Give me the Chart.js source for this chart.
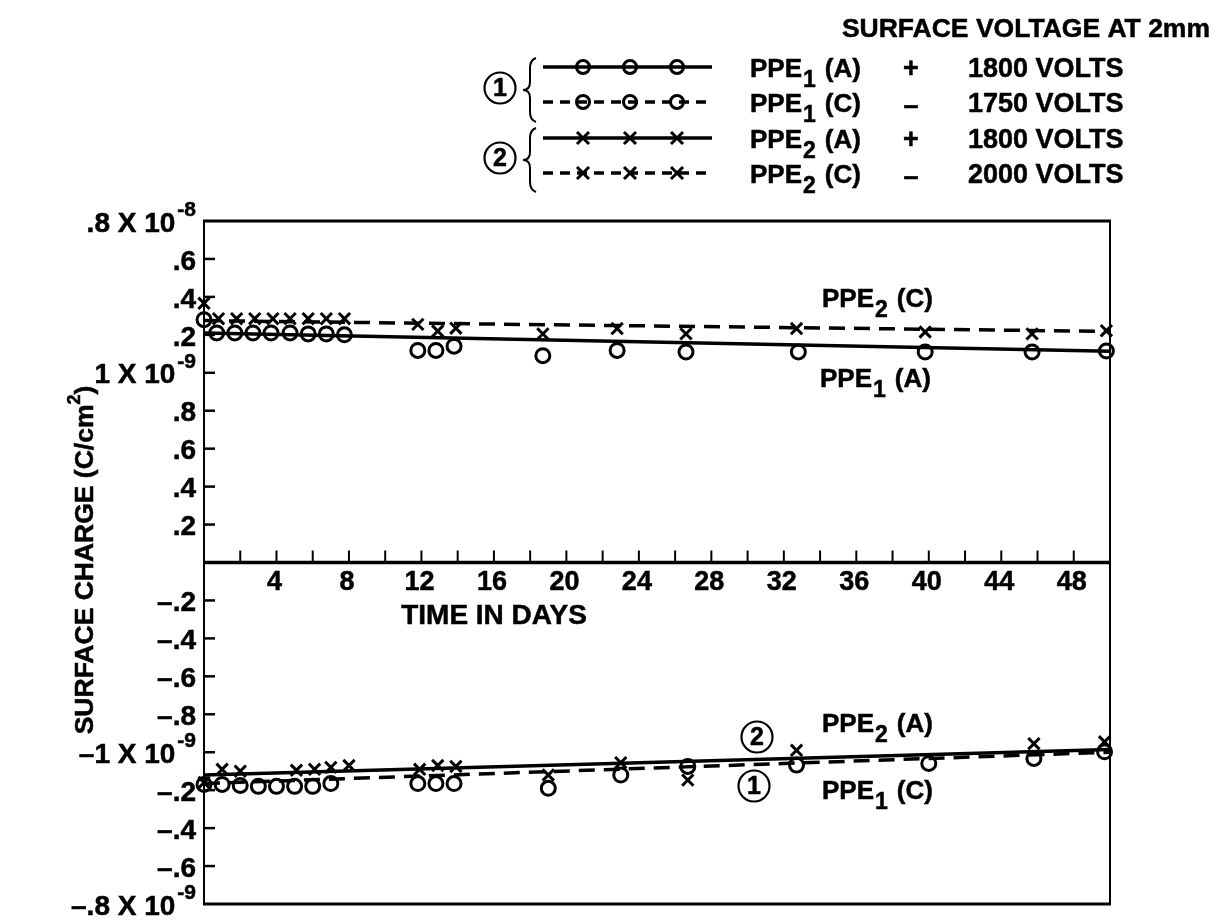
<!DOCTYPE html>
<html><head><meta charset="utf-8">
<script src="https://cdn.jsdelivr.net/npm/chart.js@4.4.1/dist/chart.umd.min.js"></script>
<style>html,body{margin:0;padding:0;background:#fff}canvas{display:block}</style>
</head><body>
<canvas id="c" width="1227" height="920"></canvas>
<script>
// ---- data ----
const fitDays = [0, 50];
const fitPPE1A = [1.21, 1.113];
const fitPPE2C = [1.275, 1.218];
const fitPPE2A = [-1.12, -0.985];
const fitPPE1C = [-1.165, -1.0];

const daysPPE1A = [0, 0.7, 1.7, 2.7, 3.7, 4.75, 5.75, 6.75, 7.75, 11.8, 12.8, 13.8, 18.7, 22.8, 26.6, 32.8, 39.8, 45.7, 49.8];
const valsPPE1A = [1.28, 1.21, 1.21, 1.21, 1.21, 1.21, 1.205, 1.205, 1.2, 1.118, 1.118, 1.14, 1.09, 1.118, 1.11, 1.11, 1.11, 1.11, 1.115];

const daysPPE2C = [0, 0.8, 1.8, 2.8, 3.8, 4.75, 5.75, 6.75, 7.75, 11.8, 12.9, 13.9, 18.7, 22.8, 26.6, 32.7, 39.8, 45.7, 49.8];
const valsPPE2C = [1.366, 1.285, 1.285, 1.285, 1.285, 1.285, 1.285, 1.285, 1.285, 1.255, 1.22, 1.235, 1.205, 1.233, 1.205, 1.233, 1.215, 1.205, 1.222];

const daysPPE2A = [0, 1, 2, 5.1, 6.1, 7, 8, 11.9, 12.9, 13.9, 19, 23, 26.7, 32.7, 45.8, 49.7];
const valsPPE2A = [-1.16, -1.09, -1.1, -1.095, -1.09, -1.08, -1.07, -1.09, -1.07, -1.075, -1.12, -1.055, -1.147, -0.99, -0.955, -0.945];

const daysPPE1C = [0, 1, 2, 3, 4, 5, 6, 7, 11.8, 12.8, 13.8, 19, 23, 26.7, 32.7, 40, 45.8, 49.7];
const valsPPE1C = [-1.17, -1.17, -1.175, -1.18, -1.18, -1.18, -1.18, -1.165, -1.165, -1.165, -1.165, -1.19, -1.12, -1.075, -1.068, -1.059, -1.033, -0.998];

const yTickValues = [1.8, 1.6, 1.4, 1.2, 1.0, 0.8, 0.6, 0.4, 0.2, -0.2, -0.4, -0.6, -0.8, -1.0, -1.2, -1.4, -1.6, -1.8];
const yTickLabels = [".8 X 10^-8", ".6", ".4", ".2", "1 X 10^-9", ".8", ".6", ".4", ".2",
  "\u2013.2", "\u2013.4", "\u2013.6", "\u2013.8", "\u20131 X 10^-9", "\u2013.2", "\u2013.4", "\u2013.6", "\u2013.8 X 10^-9"];
const xTickLabelValues = [4, 8, 12, 16, 20, 24, 28, 32, 36, 40, 44, 48];
const xTickMarkValues = [2, 4, 6, 8, 10, 12, 14, 16, 18, 20, 22, 24, 26, 28, 30, 32, 34, 36, 38, 40, 42, 44, 46, 48];

const legendRows = [
  {sub: "1", name: "(A)", sign: "+", volts: "1800 VOLTS"},
  {sub: "1", name: "(C)", sign: "\u2013", volts: "1750 VOLTS"},
  {sub: "2", name: "(A)", sign: "+", volts: "1800 VOLTS"},
  {sub: "2", name: "(C)", sign: "\u2013", volts: "2000 VOLTS"}
];

// ---- helpers ----
const FF = '"Liberation Sans", Arial, sans-serif';
const pts = (xs, ys) => xs.map((d, i) => ({x: d, y: ys[i]}));
function font(size) { return 'bold ' + size + 'px ' + FF; }
function txt(ctx, s, x, y) {
  ctx.fillText(s, x, y);
  ctx.lineWidth = 0.5;
  ctx.strokeText(s, x, y);
}

function drawSupLabel(ctx, label, right, y) {
  const parts = label.split('^');
  ctx.save();
  ctx.textBaseline = 'middle';
  ctx.textAlign = 'right';
  let r = right;
  if (parts.length > 1) {
    ctx.font = font(21);
    const w = ctx.measureText(parts[1]).width;
    txt(ctx, parts[1], r, y - 11);
    r -= w + 2;
  }
  ctx.font = font(28);
  txt(ctx, parts[0], r, y + 3);
  ctx.restore();
}

function drawPPE(ctx, sub, rest, x, y, size) {
  ctx.textAlign = 'left';
  ctx.textBaseline = 'middle';
  ctx.font = font(size);
  txt(ctx, 'PPE', x, y);
  let cx = x + ctx.measureText('PPE').width + 1;
  ctx.font = font(Math.round(size * 0.88));
  txt(ctx, sub, cx, y + 11);
  cx += ctx.measureText(sub).width + 9;
  ctx.font = font(size);
  txt(ctx, rest, cx, y);
}

function circledNum(ctx, n, x, y) {
  ctx.beginPath();
  ctx.lineWidth = 2.2;
  ctx.arc(x, y, 15.5, 0, Math.PI * 2);
  ctx.stroke();
  ctx.font = font(25);
  ctx.textAlign = 'center';
  ctx.textBaseline = 'middle';
  txt(ctx, n, x, y + 1);
}

function brace(ctx, x, y1, y2) {
  const m = (y1 + y2) / 2;
  ctx.beginPath();
  ctx.lineWidth = 2;
  ctx.moveTo(x + 8, y1);
  ctx.quadraticCurveTo(x + 2, y1 + 2, x + 2, y1 + 10);
  ctx.lineTo(x + 2, m - 8);
  ctx.quadraticCurveTo(x + 2, m, x - 5, m);
  ctx.quadraticCurveTo(x + 2, m, x + 2, m + 8);
  ctx.lineTo(x + 2, y2 - 10);
  ctx.quadraticCurveTo(x + 2, y2 - 2, x + 8, y2);
  ctx.stroke();
}

function legendMarker(ctx, kind, x, y) {
  ctx.beginPath();
  ctx.lineWidth = 3;
  if (kind === 'circle') {
    ctx.arc(x, y, 6.5, 0, Math.PI * 2);
  } else {
    const s = 6;
    ctx.moveTo(x - s, y - s); ctx.lineTo(x + s, y + s);
    ctx.moveTo(x + s, y - s); ctx.lineTo(x - s, y + s);
  }
  ctx.stroke();
}

const framePlugin = {
  id: 'frame',
  beforeDatasetsDraw(chart) {
    const {ctx, chartArea: a, scales: {x, y}} = chart;
    ctx.save();
    ctx.strokeStyle = '#000';
    ctx.lineCap = 'butt';
    ctx.lineWidth = 3;
    ctx.beginPath(); ctx.moveTo(a.left - 1, a.top); ctx.lineTo(a.right + 1, a.top); ctx.stroke();
    ctx.beginPath(); ctx.moveTo(a.left - 1, a.bottom); ctx.lineTo(a.right + 1, a.bottom); ctx.stroke();
    ctx.lineWidth = 2;
    ctx.beginPath(); ctx.moveTo(a.left, a.top); ctx.lineTo(a.left, a.bottom); ctx.stroke();
    ctx.beginPath(); ctx.moveTo(a.right, a.top); ctx.lineTo(a.right, a.bottom); ctx.stroke();
    const y0 = y.getPixelForValue(0);
    ctx.lineWidth = 3.5;
    ctx.beginPath(); ctx.moveTo(a.left, y0); ctx.lineTo(a.right, y0); ctx.stroke();
    ctx.lineWidth = 2;
    xTickMarkValues.forEach(v => {
      const px = x.getPixelForValue(v);
      ctx.beginPath(); ctx.moveTo(px, y0); ctx.lineTo(px, y0 - 12); ctx.stroke();
    });
    ctx.lineWidth = 2.5;
    yTickValues.forEach(v => {
      if (Math.abs(v) > 1.7) return;
      const py = y.getPixelForValue(v);
      ctx.beginPath(); ctx.moveTo(a.left, py); ctx.lineTo(a.left + 11, py); ctx.stroke();
    });
    ctx.restore();
  },
  afterDraw(chart) {
    const {ctx, chartArea: a, scales: {x, y}} = chart;
    ctx.save();
    ctx.fillStyle = '#000';
    ctx.strokeStyle = '#000';
    yTickValues.forEach((v, i) => drawSupLabel(ctx, yTickLabels[i], a.left - 8, y.getPixelForValue(v)));
    const y0 = y.getPixelForValue(0);
    ctx.font = font(27);
    ctx.textAlign = 'center';
    ctx.textBaseline = 'middle';
    xTickLabelValues.forEach(v => txt(ctx, String(v), x.getPixelForValue(v) - 2, y0 + 20));
    ctx.font = font(28);
    ctx.textAlign = 'center';
    txt(ctx, 'TIME IN DAYS', 494, 616);
    // y axis title
    ctx.save();
    ctx.translate(86, 560);
    ctx.rotate(-Math.PI / 2);
    ctx.font = font(26.5);
    const t1 = 'SURFACE CHARGE (C/cm';
    const w1 = ctx.measureText(t1).width;
    ctx.font = font(18);
    const w2 = ctx.measureText('2').width;
    ctx.font = font(26.5);
    const w3 = ctx.measureText(')').width;
    const sx = -(w1 + w2 + w3) / 2;
    ctx.textAlign = 'left';
    txt(ctx, t1, sx, 0);
    ctx.font = font(18);
    txt(ctx, '2', sx + w1, -11);
    ctx.font = font(26.5);
    txt(ctx, ')', sx + w1 + w2, 0);
    ctx.restore();
    // annotations
    drawPPE(ctx, '2', '(C)', 822, 300, 26);
    drawPPE(ctx, '1', '(A)', 820, 380, 26);
    drawPPE(ctx, '2', '(A)', 822, 725, 26);
    drawPPE(ctx, '1', '(C)', 822, 792, 26);
    circledNum(ctx, '2', 757, 737);
    circledNum(ctx, '1', 754, 786);
    // legend
    ctx.font = font(26.5);
    ctx.textAlign = 'right';
    ctx.textBaseline = 'middle';
    txt(ctx, 'SURFACE VOLTAGE AT 2mm', 1210, 30);
    const rowY = [70, 105, 141, 176];
    legendRows.forEach((r, i) => {
      const ly = rowY[i] - 3;
      ctx.save();
      ctx.lineWidth = 3.5;
      ctx.setLineDash(i % 2 === 1 ? [10, 7] : []);
      ctx.beginPath(); ctx.moveTo(543, ly); ctx.lineTo(712, ly); ctx.stroke();
      ctx.restore();
      [583, 630, 677].forEach(mx => legendMarker(ctx, i < 2 ? 'circle' : 'cross', mx, ly));
      drawPPE(ctx, r.sub, r.name, 750, rowY[i], 26);
      ctx.font = font(27);
      ctx.textAlign = 'center';
      ctx.textBaseline = 'middle';
      txt(ctx, r.sign, 911, rowY[i] + (r.sign === '+' ? 0 : 2));
      ctx.textAlign = 'left';
      txt(ctx, r.volts, 968, rowY[i]);
    });
    circledNum(ctx, '1', 500, 88);
    circledNum(ctx, '2', 500, 158);
    brace(ctx, 528, 58, 122);
    brace(ctx, 528, 128, 192);
    ctx.restore();
  }
};

const lineDs = (data, dash) => ({
  data, showLine: true, borderColor: '#000', borderWidth: 3.5, borderDash: dash,
  pointRadius: 0, fill: false, tension: 0
});
const markDs = (data, style, r) => ({
  data, showLine: false, pointStyle: style, pointRadius: r, borderColor: '#000',
  backgroundColor: 'rgba(0,0,0,0)', pointBorderWidth: 3, clip: false
});

new Chart(document.getElementById('c').getContext('2d'), {
  type: 'scatter',
  data: {
    datasets: [
      lineDs(pts(fitDays, fitPPE1A), []),
      lineDs(pts(fitDays, fitPPE2C), [16, 9]),
      lineDs(pts(fitDays, fitPPE2A), []),
      lineDs(pts(fitDays, fitPPE1C), [16, 9]),
      markDs(pts(daysPPE1A, valsPPE1A), 'circle', 7),
      markDs(pts(daysPPE2C, valsPPE2C), 'crossRot', 8),
      markDs(pts(daysPPE2A, valsPPE2A), 'crossRot', 8),
      markDs(pts(daysPPE1C, valsPPE1C), 'circle', 7)
    ]
  },
  options: {
    responsive: false,
    animation: false,
    events: [],
    layout: {padding: {left: 204, right: 117, top: 221, bottom: 16}},
    plugins: {legend: {display: false}, tooltip: {enabled: false}},
    scales: {
      x: {type: 'linear', min: 0, max: 50, display: false},
      y: {type: 'linear', min: -1.8, max: 1.8, display: false}
    }
  },
  plugins: [framePlugin]
});
</script>
</body></html>
